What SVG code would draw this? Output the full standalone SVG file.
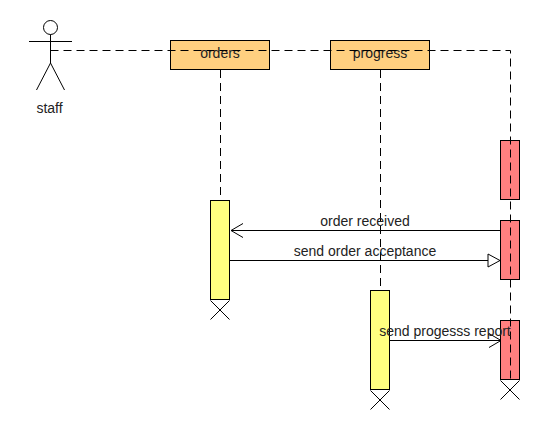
<svg xmlns="http://www.w3.org/2000/svg" width="550" height="430" viewBox="0 0 550 430">
<style>
.l{fill:none;stroke:#000;stroke-width:1}
.d{fill:none;stroke:#000;stroke-width:1;stroke-dasharray:8 5}
.h{fill:#ffd080;stroke:#000}
.y{fill:#ffff80;stroke:#000}
.r{fill:#ff8080;stroke:#000}
text{font-family:"Liberation Sans",Arial,sans-serif;font-size:14px;fill:#222;text-anchor:middle}
</style>
<defs>
<marker id="open" markerWidth="14" markerHeight="16" refX="13" refY="8" orient="auto" markerUnits="userSpaceOnUse"><path d="M1 1L13 8L1 15" fill="none" stroke="#000"/></marker>
<marker id="tri" markerWidth="14" markerHeight="16" refX="13" refY="8" orient="auto" markerUnits="userSpaceOnUse"><path d="M1 1.500L13 8L1 14.500Z" fill="#fff" stroke="#000"/></marker>
</defs>
<rect width="550" height="430" fill="#fff"/>
<g id="staff">
<circle class="l" cx="50.500" cy="27.500" r="7"/>
<path class="l" d="M50.500 34.500V63M29 41.500H72M50.500 63L36.500 90M50.500 63L64.500 90"/>
<text x="49.500" y="113">staff</text>
</g>
<g id="orders">
<rect class="h" x="170.500" y="40.500" width="99" height="29"/>
<text x="220" y="58">orders</text>
</g>
<g id="progress">
<rect class="h" x="330.500" y="40.500" width="99" height="29"/>
<text x="380" y="58">progress</text>
</g>
<g id="staff-activation-1">
<rect class="r" x="500.500" y="140.500" width="19" height="59"/>
</g>
<g id="staff-activation-2">
<rect class="r" x="500.500" y="220.500" width="19" height="59"/>
</g>
<g id="staff-activation-3">
<rect class="r" x="500.500" y="320.500" width="19" height="59"/>
<path class="l" d="M500.500 380.500L519.500 399.500M519.500 380.500L500.500 399.500"/>
</g>
<g id="orders-activation">
<rect class="y" x="210.500" y="200.500" width="19" height="99"/>
<path class="l" d="M210.500 300.500L229.500 319.500M229.500 300.500L210.500 319.500"/>
</g>
<g id="progress-activation">
<rect class="y" x="370.500" y="290.500" width="19" height="99"/>
<path class="l" d="M370.500 390.500L389.500 409.500M389.500 390.500L370.500 409.500"/>
</g>
<g id="connectors">
<path class="d" d="M50.500 50.500H510.500V380"/>
<path class="d" d="M220.500 70V200"/>
<path class="d" d="M380.500 70V290"/>
<path class="l" d="M500.500 230.500H231" marker-end="url(#open)"/>
<path class="l" d="M230 260.500H500" marker-end="url(#tri)"/>
<path class="l" d="M390 340.500H501" marker-end="url(#open)"/>
</g>
<g id="labels">
<text x="365" y="226">order received</text>
<text x="365" y="256">send order acceptance</text>
<text x="445" y="336">send progesss report</text>
</g>
</svg>
